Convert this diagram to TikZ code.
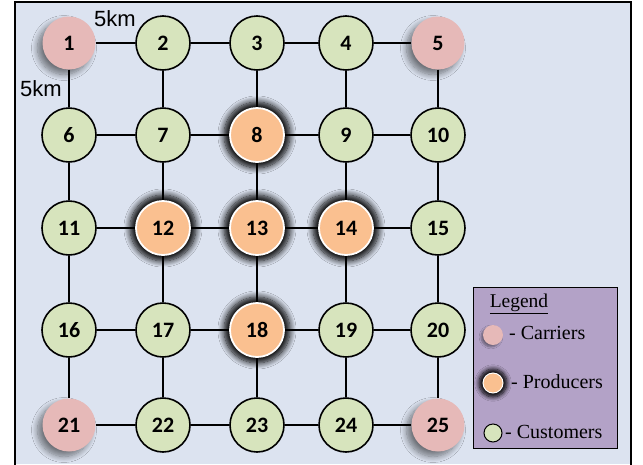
\documentclass[tikz,border=0pt]{standalone}
\usepackage{fontspec}
\setmainfont{Liberation Serif}
\newfontfamily\numfont{Carlito}
\newfontfamily\kmfont{Liberation Sans}
\usetikzlibrary{shadows.blur}
\definecolor{bgblue}{RGB}{220,227,240}
\definecolor{custgreen}{RGB}{215,228,189}
\definecolor{carpink}{RGB}{230,185,184}
\definecolor{prodorange}{RGB}{250,192,144}
\definecolor{legpurple}{RGB}{179,162,199}
\tikzset{
  base/.style={circle, minimum size=54pt, inner sep=0pt, font=\numfont\bfseries\fontsize{22}{22}\selectfont},
  cust/.style={base, fill=custgreen, draw=black, line width=1.6pt},
  carr/.style={base, fill=carpink, minimum size=53pt,
     blur shadow={shadow xshift=-5pt, shadow yshift=-5pt, shadow blur steps=10, shadow opacity=50, shadow blur radius=6pt}},
  prod/.style={base, fill=prodorange, draw=white, line width=1.8pt,
     blur shadow={shadow xshift=0pt, shadow yshift=0pt, shadow scale=1.22, shadow blur steps=10, shadow opacity=100, shadow blur radius=5pt}},
  link/.style={line width=1.8pt, black},
  legtext/.style={anchor=west, font=\fontsize{20}{20}\selectfont, inner sep=0pt},
  kmlab/.style={font=\kmfont\fontsize{22}{22}\selectfont, inner sep=0pt},
}
\begin{document}
\begin{tikzpicture}[x=1pt,y=-1pt]
\useasboundingbox (0,0) rectangle (643,464);
\fill[bgblue] (15,2) rectangle (631,464);
\draw[line width=2pt] (15,470) -- (15,2) -- (631,2) -- (631,470);
% nodes
\foreach \n/\x/\y/\s in {
 1/69/43/carr, 2/163/43/cust, 3/257/43/cust, 4/346/43/cust, 5/438/43/carr,
 6/69/135/cust, 7/163/135/cust, 8/257/135/prod, 9/346/135/cust, 10/438/135/cust,
 11/69/228/cust, 12/163/228/prod, 13/257/228/prod, 14/346/228/prod, 15/438/228/cust,
 16/69/330/cust, 17/163/330/cust, 18/257/330/prod, 19/346/330/cust, 20/438/330/cust,
 21/69/425/carr, 22/163/425/cust, 23/257/425/cust, 24/346/425/cust, 25/438/425/carr}
 {\node[\s] (n\n) at (\x,\y) {\n};}
% horizontal links
\foreach \a/\b in {1/2,2/3,3/4,4/5,6/7,7/8,8/9,9/10,11/12,12/13,13/14,14/15,16/17,17/18,18/19,19/20,21/22,22/23,23/24,24/25}
 {\draw[link] (n\a) -- (n\b);}
% vertical links
\foreach \a/\b in {1/6,2/7,3/8,4/9,5/10,6/11,7/12,8/13,9/14,10/15,11/16,12/17,13/18,14/19,15/20,16/21,17/22,18/23,19/24,20/25}
 {\draw[link] (n\a) -- (n\b);}
% km labels
\node[kmlab] (km1) at (115,19) {5km};
\node[kmlab] (km2) at (41,89) {5km};
% legend
\node[draw=black, line width=1pt, fill=legpurple, minimum width=144pt, minimum height=161pt, anchor=north west, inner sep=0pt] (leg) at (473,287) {};
\node[font=\fontsize{19.5}{19.5}\selectfont, inner sep=1pt] (legt) at (519,304) {\underline{Legend}};
\node[circle, minimum size=20pt, inner sep=0pt, fill=carpink,
   blur shadow={shadow xshift=-2pt, shadow yshift=-2pt, shadow blur steps=6, shadow opacity=40}] (lc) at (493,335) {};
\node[circle, minimum size=20pt, inner sep=0pt, fill=prodorange, draw=white, line width=1pt,
   blur shadow={shadow xshift=0pt, shadow yshift=0pt, shadow scale=1.4, shadow blur steps=8, shadow opacity=100, shadow blur radius=3pt}] (lp) at (493,383) {};
\node[circle, minimum size=18pt, inner sep=0pt, fill=custgreen, draw=black, line width=1pt] (lu) at (493,433) {};
\node[legtext] (tc) at (509,333) {- Carriers};
\node[legtext] (tp) at (511,382) {- Producers};
\node[legtext] (tu) at (505,432) {- Customers};
\end{tikzpicture}
\end{document}
